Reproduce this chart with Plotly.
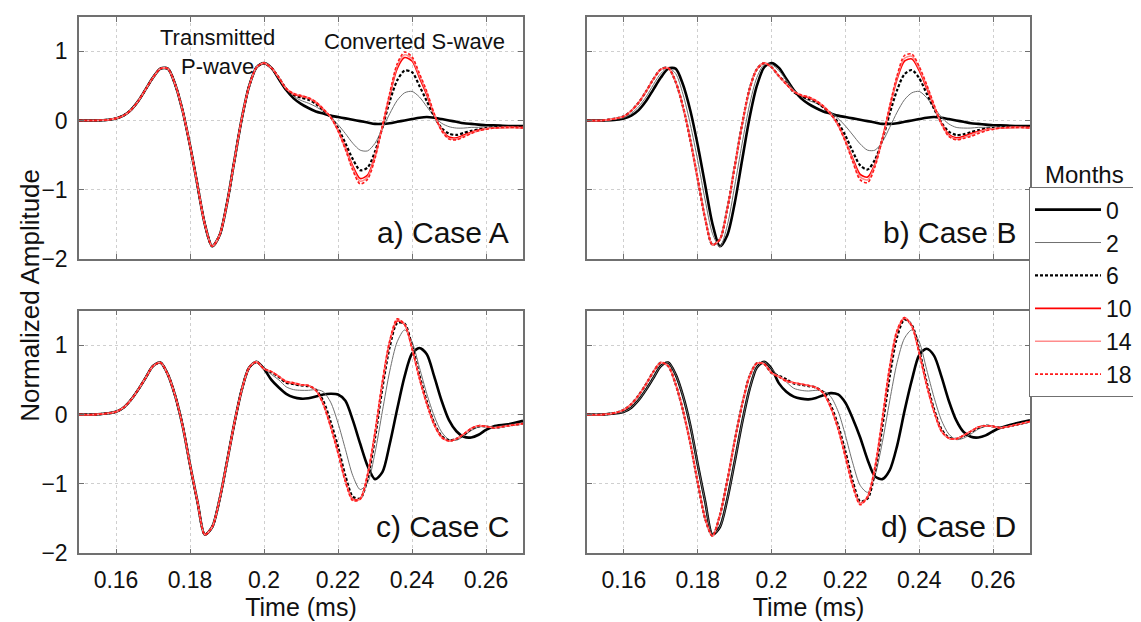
import plotly.graph_objects as go

# ---------------- data ----------------
MONTHS = ["0", "2", "6", "10", "14", "18"]
X_TICKS = [0.16, 0.18, 0.20, 0.22, 0.24, 0.26]
X_TICK_TEXT = ["0.16", "0.18", "0.2", "0.22", "0.24", "0.26"]
Y_TICKS = [-2, -1, 0, 1]
PANEL_LABELS = ["a) Case A", "b) Case B", "c) Case C", "d) Case D"]

# time samples (ms): transmitted P-wave part and converted S-wave part
T_P = [0.150, 0.154, 0.158, 0.160, 0.162, 0.164, 0.166, 0.168, 0.170, 0.172,
       0.174, 0.176, 0.178, 0.180, 0.182, 0.184, 0.186, 0.188, 0.190, 0.192,
       0.194, 0.196, 0.198, 0.200]
T_S = [0.202, 0.204, 0.206, 0.208, 0.210, 0.212, 0.214, 0.216, 0.218, 0.220,
       0.222, 0.224, 0.226, 0.228, 0.230, 0.232, 0.234, 0.236, 0.238, 0.240,
       0.242, 0.244, 0.246, 0.248, 0.250, 0.252, 0.254, 0.256, 0.258, 0.260,
       0.262, 0.266, 0.270]

# P-wave amplitudes
P_A = [0.00, 0.00, 0.01, 0.03, 0.07, 0.15, 0.28, 0.45, 0.62, 0.75, 0.75, 0.52, 0.14, -0.36,
       -0.93, -1.50, -1.82, -1.66, -1.20, -0.58, 0.03, 0.50, 0.77, 0.83]
P_B_MID = [0.00, 0.00, 0.02, 0.04, 0.10, 0.20, 0.34, 0.52, 0.68, 0.76, 0.68, 0.38, -0.06, -0.58,
           -1.15, -1.64, -1.83, -1.52, -0.95, -0.34, 0.22, 0.62, 0.81, 0.81]
P_B_EARLY = [0.00, 0.00, 0.03, 0.06, 0.14, 0.26, 0.42, 0.60, 0.74, 0.76, 0.56, 0.20, -0.29, -0.85,
             -1.42, -1.80, -1.72, -1.28, -0.67, -0.06, 0.45, 0.74, 0.83, 0.77]
P_C = [0.00, 0.00, 0.02, 0.04, 0.10, 0.21, 0.36, 0.53, 0.70, 0.75, 0.58, 0.27, -0.16, -0.72,
       -1.25, -1.73, -1.62, -1.22, -0.68, -0.12, 0.36, 0.68, 0.76, 0.66]
P_D_EARLY = [0.00, 0.00, 0.03, 0.07, 0.15, 0.28, 0.44, 0.62, 0.75, 0.70, 0.44, 0.06, -0.42, -0.98,
             -1.50, -1.75, -1.45, -0.95, -0.38, 0.14, 0.55, 0.74, 0.73, 0.60]

# S-wave part amplitudes, Case A
S_A0 = [0.76, 0.60, 0.44, 0.32, 0.24, 0.18, 0.13, 0.10, 0.07, 0.05, 0.03, 0.01, -0.01, -0.03, -0.05,
        -0.05, -0.04, -0.02, 0.00, 0.02, 0.04, 0.05, 0.04, 0.02, 0.00, -0.02, -0.04, -0.05, -0.06,
        -0.07, -0.07, -0.08, -0.08]
S_A2 = [0.76, 0.61, 0.45, 0.35, 0.29, 0.25, 0.20, 0.13, 0.05, -0.06, -0.19, -0.33, -0.43, -0.44, -0.33,
        -0.12, 0.10, 0.29, 0.40, 0.42, 0.34, 0.20, 0.06, -0.04, -0.09, -0.11, -0.11, -0.10, -0.10,
        -0.09, -0.09, -0.09, -0.09]
S_A6 = [0.76, 0.62, 0.46, 0.37, 0.33, 0.30, 0.24, 0.15, 0.05, -0.11, -0.33, -0.56, -0.72, -0.68, -0.45,
        -0.10, 0.28, 0.58, 0.72, 0.70, 0.50, 0.28, 0.06, -0.11, -0.19, -0.21, -0.18, -0.15, -0.13,
        -0.11, -0.10, -0.09, -0.10]
S_A10 = [0.76, 0.62, 0.46, 0.38, 0.35, 0.32, 0.26, 0.16, 0.05, -0.14, -0.39, -0.66, -0.84, -0.79, -0.51,
         -0.09, 0.36, 0.75, 0.91, 0.86, 0.62, 0.37, 0.08, -0.13, -0.24, -0.25, -0.21, -0.17, -0.14,
         -0.12, -0.11, -0.10, -0.10]
S_A14 = [0.76, 0.62, 0.46, 0.39, 0.36, 0.33, 0.27, 0.17, 0.05, -0.15, -0.41, -0.69, -0.88, -0.82, -0.53,
         -0.08, 0.38, 0.79, 0.95, 0.89, 0.65, 0.40, 0.09, -0.14, -0.26, -0.27, -0.23, -0.18, -0.15,
         -0.12, -0.11, -0.10, -0.11]
S_A18 = [0.76, 0.62, 0.46, 0.39, 0.36, 0.33, 0.27, 0.17, 0.05, -0.15, -0.42, -0.72, -0.92, -0.85, -0.55,
         -0.08, 0.40, 0.82, 0.99, 0.92, 0.68, 0.42, 0.10, -0.15, -0.27, -0.28, -0.24, -0.19, -0.15,
         -0.13, -0.11, -0.10, -0.11]

# Case B
S_B0 = [0.76, 0.60, 0.44, 0.32, 0.24, 0.18, 0.13, 0.10, 0.07, 0.05, 0.03, 0.01, -0.01, -0.03, -0.05,
        -0.05, -0.04, -0.02, 0.00, 0.02, 0.04, 0.05, 0.04, 0.02, 0.00, -0.02, -0.04, -0.05, -0.06,
        -0.07, -0.07, -0.08, -0.08]
S_B2 = [0.72, 0.58, 0.44, 0.35, 0.29, 0.25, 0.19, 0.12, 0.03, -0.08, -0.21, -0.34, -0.43, -0.43, -0.31,
        -0.10, 0.12, 0.30, 0.40, 0.42, 0.33, 0.19, 0.05, -0.05, -0.10, -0.11, -0.11, -0.10, -0.10,
        -0.09, -0.09, -0.09, -0.09]
S_B6 = [0.64, 0.54, 0.41, 0.35, 0.31, 0.27, 0.19, 0.10, -0.03, -0.22, -0.45, -0.65, -0.71, -0.57, -0.28,
        0.10, 0.44, 0.67, 0.73, 0.61, 0.39, 0.17, -0.03, -0.16, -0.21, -0.20, -0.17, -0.14, -0.12,
        -0.11, -0.10, -0.09, -0.10]
S_B10 = [0.64, 0.53, 0.42, 0.36, 0.33, 0.28, 0.20, 0.09, -0.06, -0.29, -0.55, -0.78, -0.82, -0.63, -0.26,
         0.18, 0.60, 0.86, 0.89, 0.72, 0.47, 0.20, -0.04, -0.20, -0.25, -0.23, -0.19, -0.16, -0.13,
         -0.12, -0.11, -0.10, -0.10]
S_B14 = [0.64, 0.53, 0.42, 0.37, 0.34, 0.29, 0.21, 0.10, -0.07, -0.30, -0.58, -0.82, -0.86, -0.65, -0.27,
         0.20, 0.63, 0.90, 0.93, 0.75, 0.50, 0.22, -0.05, -0.22, -0.27, -0.25, -0.21, -0.17, -0.14,
         -0.12, -0.11, -0.10, -0.11]
S_B18 = [0.64, 0.52, 0.42, 0.37, 0.34, 0.29, 0.21, 0.10, -0.07, -0.31, -0.60, -0.86, -0.90, -0.67, -0.27,
         0.21, 0.65, 0.94, 0.96, 0.78, 0.52, 0.23, -0.05, -0.23, -0.28, -0.26, -0.23, -0.19, -0.15,
         -0.13, -0.11, -0.10, -0.11]

# Case C
S_C0 = [0.50, 0.39, 0.30, 0.25, 0.23, 0.235, 0.26, 0.29, 0.30, 0.29, 0.20, -0.08, -0.42, -0.74, -0.93,
        -0.83, -0.42, 0.08, 0.55, 0.88, 0.96, 0.87, 0.55, 0.20, -0.08, -0.24, -0.32, -0.33, -0.29,
        -0.22, -0.17, -0.14, -0.09]
S_C2 = [0.58, 0.50, 0.40, 0.36, 0.35, 0.35, 0.36, 0.33, 0.18, -0.12, -0.50, -0.88, -1.08, -0.98, -0.55,
        0.05, 0.63, 1.05, 1.22, 1.05, 0.68, 0.30, -0.02, -0.25, -0.36, -0.37, -0.31, -0.23, -0.18,
        -0.17, -0.18, -0.15, -0.12]
S_C6 = [0.61, 0.54, 0.46, 0.44, 0.42, 0.41, 0.36, 0.20, -0.10, -0.46, -0.88, -1.18, -1.21, -0.92, -0.34,
        0.38, 0.98, 1.32, 1.31, 0.99, 0.57, 0.19, -0.12, -0.31, -0.37, -0.35, -0.29, -0.21, -0.17,
        -0.17, -0.19, -0.16, -0.13]
S_C10 = [0.62, 0.55, 0.47, 0.45, 0.43, 0.42, 0.35, 0.16, -0.16, -0.53, -0.95, -1.22, -1.21, -0.87, -0.27,
         0.45, 1.05, 1.35, 1.30, 0.96, 0.53, 0.16, -0.14, -0.32, -0.38, -0.35, -0.28, -0.20, -0.16,
         -0.17, -0.19, -0.16, -0.13]
S_C14 = [0.62, 0.55, 0.48, 0.46, 0.43, 0.42, 0.35, 0.15, -0.17, -0.55, -0.96, -1.23, -1.22, -0.86, -0.26,
         0.47, 1.06, 1.37, 1.30, 0.95, 0.52, 0.15, -0.15, -0.33, -0.38, -0.35, -0.28, -0.20, -0.16,
         -0.17, -0.19, -0.16, -0.13]
S_C18 = [0.62, 0.55, 0.48, 0.46, 0.43, 0.42, 0.35, 0.15, -0.18, -0.56, -0.97, -1.24, -1.22, -0.86, -0.25,
         0.48, 1.07, 1.38, 1.30, 0.95, 0.52, 0.15, -0.15, -0.33, -0.38, -0.35, -0.28, -0.20, -0.16,
         -0.17, -0.19, -0.16, -0.13]

# Case D
S_D0 = [0.45, 0.33, 0.26, 0.23, 0.22, 0.24, 0.28, 0.31, 0.29, 0.17, -0.06, -0.33, -0.65, -0.89, -0.93,
        -0.80, -0.45, 0.05, 0.50, 0.86, 0.95, 0.85, 0.55, 0.20, -0.08, -0.25, -0.32, -0.33, -0.30,
        -0.24, -0.19, -0.13, -0.08]
S_D2 = [0.55, 0.47, 0.38, 0.35, 0.34, 0.35, 0.34, 0.26, 0.05, -0.30, -0.70, -1.02, -1.12, -0.88, -0.40,
        0.20, 0.75, 1.10, 1.22, 1.05, 0.65, 0.25, -0.08, -0.28, -0.36, -0.34, -0.28, -0.21, -0.17,
        -0.17, -0.18, -0.15, -0.10]
S_D6 = [0.56, 0.51, 0.45, 0.43, 0.41, 0.39, 0.32, 0.14, -0.15, -0.53, -0.96, -1.25, -1.21, -0.83, -0.18,
        0.55, 1.12, 1.37, 1.29, 0.93, 0.47, 0.08, -0.21, -0.33, -0.35, -0.31, -0.25, -0.19, -0.16,
        -0.17, -0.19, -0.15, -0.10]
S_D10 = [0.55, 0.49, 0.46, 0.44, 0.42, 0.39, 0.31, 0.11, -0.19, -0.59, -1.01, -1.28, -1.19, -0.78, -0.09,
         0.66, 1.19, 1.39, 1.28, 0.89, 0.44, 0.05, -0.23, -0.34, -0.35, -0.30, -0.24, -0.18, -0.16,
         -0.17, -0.19, -0.15, -0.10]
S_D14 = [0.55, 0.48, 0.46, 0.44, 0.42, 0.39, 0.31, 0.10, -0.20, -0.61, -1.03, -1.29, -1.18, -0.76, -0.06,
         0.69, 1.21, 1.40, 1.27, 0.88, 0.42, 0.04, -0.24, -0.34, -0.35, -0.30, -0.24, -0.18, -0.16,
         -0.17, -0.19, -0.15, -0.10]
S_D18 = [0.54, 0.48, 0.46, 0.44, 0.42, 0.39, 0.31, 0.10, -0.21, -0.62, -1.04, -1.30, -1.18, -0.75, -0.05,
         0.70, 1.22, 1.40, 1.27, 0.88, 0.42, 0.04, -0.24, -0.34, -0.35, -0.30, -0.24, -0.18, -0.16,
         -0.17, -0.19, -0.15, -0.10]

# per panel: P-wave list and S-wave list for each month (order of MONTHS)
PANEL_P = [
    [P_A, P_A, P_A, P_A, P_A, P_A],
    [P_A, P_B_MID, P_B_EARLY, P_B_EARLY, P_B_EARLY, P_B_EARLY],
    [P_C, P_C, P_C, P_C, P_C, P_C],
    [P_C, P_C, P_D_EARLY, P_D_EARLY, P_D_EARLY, P_D_EARLY],
]
PANEL_S = [
    [S_A0, S_A2, S_A6, S_A10, S_A14, S_A18],
    [S_B0, S_B2, S_B6, S_B10, S_B14, S_B18],
    [S_C0, S_C2, S_C6, S_C10, S_C14, S_C18],
    [S_D0, S_D2, S_D6, S_D10, S_D14, S_D18],
]

# ---------------- styling ----------------
W, H = 1141, 622
FONT = "Liberation Sans, Arial, sans-serif"
STYLE = [
    dict(color="#000000", width=2.6, dash="solid"),
    dict(color="#6f6f6f", width=1.0, dash="solid"),
    dict(color="#000000", width=2.2, dash="3px,2px"),
    dict(color="#ff0000", width=1.6, dash="solid"),
    dict(color="#ff8c8c", width=1.6, dash="solid"),
    dict(color="#ff1a1a", width=1.6, dash="3px,2px"),
]

# panel pixel boxes (left, right, top, bottom)
BOX = [(71, 515, 9, 256), (579, 1022, 9, 256), (71, 515, 309, 557), (579, 1022, 309, 557)]


def px_x(v):
    return v / W


def px_y(v):
    return 1 - v / H


fig = go.Figure()

for p in range(4):
    ax = "" if p == 0 else str(p + 1)
    for m in range(6):
        fig.add_trace(go.Scatter(
            x=T_P + T_S,
            y=PANEL_P[p][m] + PANEL_S[p][m],
            mode="lines",
            line=dict(color=STYLE[m]["color"], width=STYLE[m]["width"],
                      dash=STYLE[m]["dash"], shape="spline", smoothing=0.8),
            name=MONTHS[m],
            legendgroup=MONTHS[m],
            showlegend=(p == 0),
            xaxis="x" + ax,
            yaxis="y" + ax,
            hoverinfo="skip",
        ))

layout = dict(
    width=W, height=H,
    margin=dict(l=0, r=0, t=0, b=0),
    paper_bgcolor="white", plot_bgcolor="white",
    font=dict(family=FONT, size=23, color="#111111"),
    showlegend=True,
    legend=dict(
        x=px_x(1021), y=px_y(183), xanchor="left", yanchor="top",
        bordercolor="#707070", borderwidth=1, bgcolor="white",
        font=dict(family=FONT, size=23, color="#111111"),
        itemwidth=66, tracegroupgap=0,
    ),
)

for p in range(4):
    l, r, t, b = BOX[p]
    suffix = "" if p == 0 else str(p + 1)
    common = dict(
        showline=True, linecolor="#707070", linewidth=1.5, mirror="ticks",
        ticks="inside", ticklen=5, tickwidth=1, tickcolor="#707070",
        showgrid=True, gridcolor="#cfcfcf", griddash="dot", gridwidth=1,
        zeroline=False, tickfont=dict(family=FONT, size=23, color="#111111"),
    )
    xa = dict(common)
    xa.update(domain=[px_x(l), px_x(r)], range=[0.15, 0.27], tickvals=X_TICKS,
              ticktext=X_TICK_TEXT, anchor="y" + suffix, showticklabels=(p >= 2),
              ticklabelstandoff=5)
    if p >= 2:
        xa.update(title=dict(text="Time (ms)", font=dict(family=FONT, size=25, color="#111111"),
                             standoff=2))
    ya = dict(common)
    ya.update(domain=[px_y(b), px_y(t)], range=[-2, 1.5], tickvals=Y_TICKS,
              anchor="x" + suffix, showticklabels=(p % 2 == 0), ticklabelstandoff=5)
    layout["xaxis" + suffix] = xa
    layout["yaxis" + suffix] = ya

annotations = [
    dict(text="Normalized Amplitude", x=px_x(22), y=px_y(294), xref="paper", yref="paper",
         textangle=-90, showarrow=False, font=dict(family=FONT, size=26, color="#111111"),
         xanchor="center", yanchor="middle"),
    dict(text="Transmitted<br>P-wave", x=px_x(209), y=px_y(45), xref="paper", yref="paper",
         showarrow=False, font=dict(family=FONT, size=22, color="#111111"),
         xanchor="center", yanchor="middle"),
    dict(text="Converted S-wave", x=px_x(406), y=px_y(34), xref="paper", yref="paper",
         showarrow=False, font=dict(family=FONT, size=22, color="#111111"),
         xanchor="center", yanchor="middle"),
    dict(text="Months", x=px_x(1076), y=px_y(170), xref="paper", yref="paper",
         showarrow=False, font=dict(family=FONT, size=24, color="#111111"),
         xanchor="center", yanchor="middle"),
]
for p in range(4):
    l, r, t, b = BOX[p]
    annotations.append(dict(
        text=PANEL_LABELS[p], x=px_x(r - 12), y=px_y(b - 27), xref="paper", yref="paper",
        showarrow=False, font=dict(family=FONT, size=30, color="#111111"),
        xanchor="right", yanchor="middle"))
layout["annotations"] = annotations

fig.update_layout(**layout)
fig.write_html("out.html")
